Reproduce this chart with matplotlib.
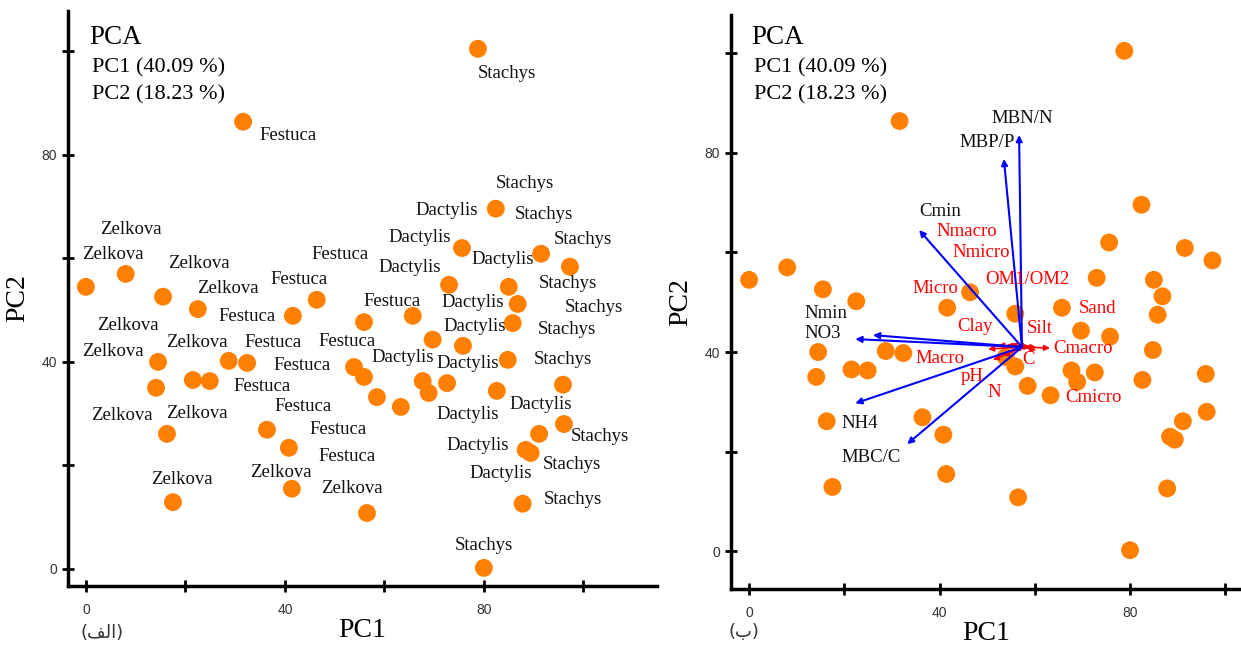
import matplotlib
matplotlib.use("Agg")
import matplotlib.pyplot as plt

# sample scores on PC1 / PC2 (same 48 samples in both panels)
pc1 = [78.8, 31.6, 82.4, 75.6, 91.5, 97.3, 73.0, 85.0, 86.8, 85.8, 65.7, 55.9,
       46.4, 41.6, 0.0, 8.0, 15.5, 22.5, 14.5, 28.7, 32.4, 14.1, 21.5, 24.9,
       16.3, 36.4, 40.8, 41.4, 17.5, 69.7, 75.8, 84.8, 53.9, 55.9, 67.7, 68.9,
       72.6, 82.6, 95.9, 58.5, 63.3, 96.1, 91.1, 88.4, 89.4, 56.5, 87.8, 80.0]
pc2 = [100.5, 86.4, 69.6, 62.0, 60.9, 58.4, 54.9, 54.5, 51.2, 47.5, 48.9, 47.7,
       52.0, 48.9, 54.5, 57.0, 52.6, 50.2, 40.0, 40.2, 39.8, 35.0, 36.5, 36.3,
       26.1, 26.9, 23.4, 15.5, 12.9, 44.3, 43.1, 40.4, 39.0, 37.1, 36.3, 34.0,
       35.9, 34.4, 35.6, 33.2, 31.3, 28.0, 26.1, 23.0, 22.4, 10.8, 12.6, 0.2]

# species names and where they are written in panel (a)
species = (["Zelkova"] * 12 + ["Festuca"] * 12 +
           ["Dactylis"] * 12 + ["Stachys"] * 12)
species_x = [9.0, 5.4, 22.7, 28.5, 8.4, 22.3, 5.4, 7.2, 22.3, 19.3, 39.2, 53.5,
             40.6, 51.1, 42.8, 32.4, 37.6, 52.5, 43.4, 35.4, 43.6, 50.7, 52.5, 61.5,
             72.6, 67.1, 83.8, 65.1, 77.8, 78.2, 63.7, 76.8, 76.8, 91.5, 78.8, 83.4,
             84.6, 88.2, 92.1, 99.9, 96.9, 102.1, 96.7, 95.9, 103.3, 97.7, 97.9, 80.0]
species_y = [65.5, 60.7, 59.0, 54.1, 47.0, 43.7, 42.1, 29.6, 30.0, 17.2, 18.7, 15.5,
             83.7, 60.7, 56.0, 48.7, 43.7, 43.9, 39.4, 35.2, 31.3, 26.9, 21.8, 51.6,
             69.2, 64.0, 59.7, 58.2, 51.4, 46.8, 40.8, 39.6, 29.8, 31.7, 23.8, 18.4,
             95.8, 74.4, 68.4, 63.6, 55.1, 50.6, 46.2, 40.4, 25.5, 20.1, 13.5, 4.6]

# biplot vectors (panel b), drawn from a common origin
origin = (57.3, 41.0)
blue_vars = ["MBN/N", "MBP/P", "Cmin", "Nmin", "NO3", "NH4", "MBC/C"]
blue_dx = [-0.6, -3.8, -21.6, -31.3, -35.0, -35.0, -24.1]
blue_dy = [42.6, 37.8, 23.5, 2.4, 1.6, -11.3, -19.5]
blue_lx = [57.3, 50.0, 40.1, 16.2, 15.5, 23.3, 25.6]
blue_ly = [87.0, 82.0, 68.3, 47.8, 43.8, 25.7, 18.9]

red_vars = ["Nmacro", "Nmicro", "OM1/OM2", "Micro", "Sand", "Clay", "Silt",
            "Cmacro", "Macro", "C", "pH", "N", "Cmicro"]
red_dx = [-2.5, -1.3, 0.4, -3.3, 3.0, -5.0, 1.7, 5.9, -7.1, -1.7, -6.1, -4.0, 3.0]
red_dy = [0.6, 0.4, 1.0, 0.4, 0.0, 0.4, 0.2, -0.2, -0.4, -0.8, -2.6, -1.8, -0.6]
red_lx = [45.8, 48.7, 58.4, 39.1, 73.1, 47.5, 61.1, 70.1, 40.1, 58.6, 46.8, 51.4, 72.4]
red_ly = [64.3, 59.9, 54.5, 52.7, 48.8, 45.2, 44.8, 40.8, 38.8, 38.6, 35.0, 31.8, 30.8]

tick_vals = [0, 20, 40, 60, 80, 100]
tick_text = ["0", "", "40", "", "80", ""]

SERIF = "Liberation Serif"
ORANGE = "#ff8000"
W, H = 1241, 647

fig = plt.figure(figsize=(W / 100, H / 100), dpi=100)
ax_a = fig.add_axes([68 / W, 1 - 586 / H, (657 - 68) / W, (586 - 11) / H])
ax_b = fig.add_axes([731 / W, 1 - 589 / H, (1241 - 731) / W, (589 - 15) / H])

for ax in (ax_a, ax_b):
    for side in ("top", "right"):
        ax.spines[side].set_visible(False)
    for side in ("left", "bottom"):
        ax.spines[side].set_linewidth(2.5)
    ax.set_xticks(tick_vals)
    ax.set_xticklabels(tick_text)
    ax.set_yticks(tick_vals)
    ax.set_yticklabels(tick_text)
    ax.tick_params(direction="inout", length=8, width=2, labelsize=10,
                   colors="black", labelcolor="#333333")
    ax.tick_params(axis="x", pad=8)
    ax.tick_params(axis="y", pad=4)
    for lab in ax.get_xticklabels() + ax.get_yticklabels():
        lab.set_fontfamily("Liberation Sans")
    ax.scatter(pc1, pc2, s=165, color=ORANGE, edgecolors="none", zorder=2)
    ax.set_xlabel("PC1", fontfamily=SERIF, fontsize=20, labelpad=1)
    ax.set_ylabel("PC2", fontfamily=SERIF, fontsize=20, labelpad=8)

ax_a.set_xlim(-3.6, 114.8)
ax_a.set_ylim(-3.3, 107.8)
ax_b.set_xlim(-3.8, 103.3)
ax_b.set_ylim(-7.6, 107.7)

# panel (a): species labels
for name, x, y in zip(species, species_x, species_y):
    ax_a.text(x, y, name, ha="center", va="center", fontfamily=SERIF,
              fontsize=13.5, color="#111111", zorder=3)

# panel (b): vectors
ox, oy = origin
for dx, dy in zip(red_dx, red_dy):
    ax_b.annotate("", xy=(ox + dx, oy + dy), xytext=(ox, oy),
                  arrowprops=dict(arrowstyle="-|>", color="red", lw=1.2,
                                  mutation_scale=8, shrinkA=0, shrinkB=0),
                  zorder=3)
for dx, dy in zip(blue_dx, blue_dy):
    ax_b.annotate("", xy=(ox + dx, oy + dy), xytext=(ox, oy),
                  arrowprops=dict(arrowstyle="-|>", color="blue", lw=1.5,
                                  mutation_scale=9, shrinkA=0, shrinkB=0),
                  zorder=4)
for name, x, y in zip(blue_vars, blue_lx, blue_ly):
    ax_b.text(x, y, name, ha="center", va="center", fontfamily=SERIF,
              fontsize=13.5, color="#111111", zorder=5)
for name, x, y in zip(red_vars, red_lx, red_ly):
    ax_b.text(x, y, name, ha="center", va="center", fontfamily=SERIF,
              fontsize=13.5, color="red", zorder=5)

# header block in each panel
for x0 in (89, 751):
    fig.text(x0 / W, 1 - 37 / H, "PCA", ha="left", va="center",
             fontfamily=SERIF, fontsize=19.5)
    fig.text((x0 + 3) / W, 1 - 68 / H, "PC1 (40.09 %)", ha="left", va="center",
             fontfamily=SERIF, fontsize=16)
    fig.text((x0 + 3) / W, 1 - 95 / H, "PC2 (18.23 %)", ha="left", va="center",
             fontfamily=SERIF, fontsize=16)

# panel letters (Persian), written in shaped visual order
fig.text(102 / W, 1 - 633 / H, "(\uFED2\uFEDF\uFE8D)", ha="center", va="center",
         fontfamily="DejaVu Sans", fontsize=13, color="#333333")
fig.text(744 / W, 1 - 632 / H, "(\uFE8F)", ha="center", va="center",
         fontfamily="DejaVu Sans", fontsize=13, color="#333333")

fig.savefig("out.png", dpi=100)
